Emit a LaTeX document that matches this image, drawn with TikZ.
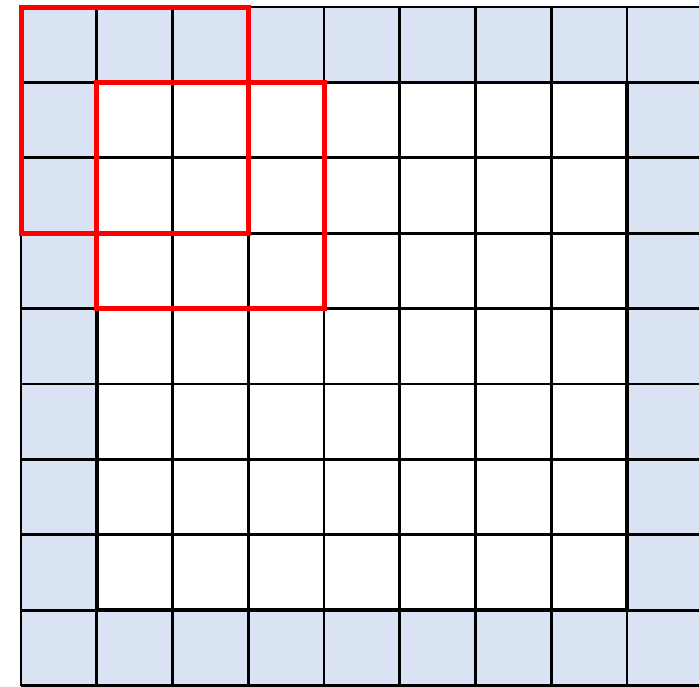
\documentclass[tikz,border=0pt]{standalone}
\definecolor{padblue}{HTML}{DAE3F3}
\definecolor{hired}{HTML}{FF0000}
\tikzset{
  gridline/.style={line width=2.9pt, black},
  innerline/.style={line width=3.8pt, black},
  window/.style={line width=5pt, hired},
}
\begin{document}
\begin{tikzpicture}[x=1pt,y=-1pt]
\useasboundingbox (0,0) rectangle (699,686);
\clip (0,0) rectangle (699,686);
\def\cw{75.75}
\def\ch{75.4}
% padding background
\fill[padblue] (21,7) rectangle (21+9*\cw,7+9*\ch);
\fill[white] (21+\cw,7+\ch) rectangle (21+8*\cw,7+8*\ch);
% grid lines
\foreach \i in {0,...,9} {
  \draw[gridline] (21+\i*\cw,7) -- (21+\i*\cw,7+9*\ch);
  \draw[gridline] (21,7+\i*\ch) -- (21+9*\cw,7+\i*\ch);
}
% inner border
\draw[innerline] (21+\cw,7+\ch) rectangle (21+8*\cw,7+8*\ch);
% sliding windows
\draw[window] (21,7) rectangle (21+3*\cw,7+3*\ch);
\draw[window] (21+\cw,7+\ch) rectangle (21+4*\cw,7+4*\ch);
\end{tikzpicture}
\end{document}
